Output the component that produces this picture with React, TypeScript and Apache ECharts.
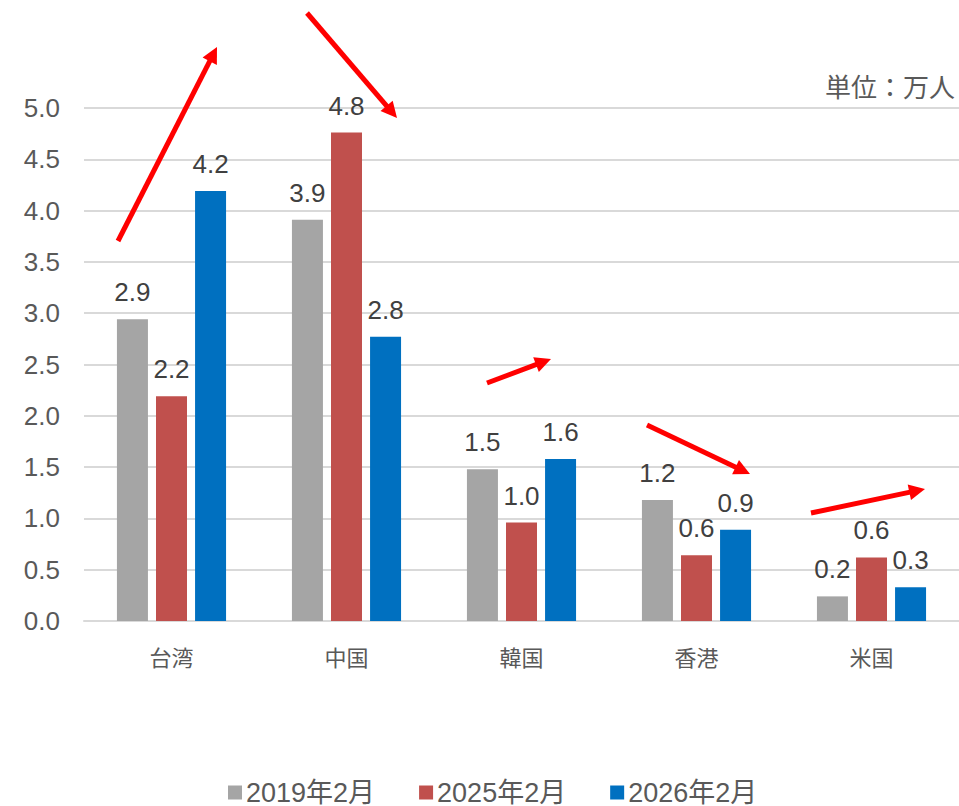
import React, { useEffect, useRef } from "react";
import * as echarts from "echarts";

const categories = ["台湾", "中国", "韓国", "香港", "米国"];
const seriesNames = ["2019年2月", "2025年2月", "2026年2月"];
const values2019 = [2.94, 3.91, 1.48, 1.18, 0.24];
const values2025 = [2.19, 4.76, 0.96, 0.64, 0.62];
const values2026 = [4.19, 2.77, 1.58, 0.89, 0.33];
const colors = ["#A5A5A5", "#C0504D", "#0070C0"];
const unitLabel = "単位：万人";
// annotation arrows (pixel positions): [x1, y1, x2, y2]
const arrows = [
  [118, 241, 217, 47],
  [307, 13, 397, 118],
  [487, 383, 551, 359],
  [647, 425, 750, 474],
  [811, 513, 925, 489],
];

const FONT = "'Liberation Sans', Arial, 'Noto Sans CJK JP', sans-serif";

function arrowGraphic(a: number[]) {
  const [x1, y1, x2, y2] = a;
  const dx = x2 - x1;
  const dy = y2 - y1;
  const len = Math.sqrt(dx * dx + dy * dy);
  const ux = dx / len;
  const uy = dy / len;
  const headLen = 16;
  const headW = 8;
  const bx = x2 - ux * headLen;
  const by = y2 - uy * headLen;
  const px = -uy;
  const py = ux;
  return [
    {
      type: "line",
      shape: { x1, y1, x2: bx + ux * 2, y2: by + uy * 2 },
      style: { stroke: "#FF0000", lineWidth: 5 },
      z: 100,
    },
    {
      type: "polygon",
      shape: {
        points: [
          [x2, y2],
          [bx + px * headW, by + py * headW],
          [bx - px * headW, by - py * headW],
        ],
      },
      style: { fill: "#FF0000" },
      z: 100,
    },
  ];
}

export default function App() {
  const ref = useRef<HTMLDivElement>(null);
  useEffect(() => {
    document.body.style.margin = "0";
    const chart = echarts.init(ref.current!, undefined, { renderer: "svg" });
    const data = [values2019, values2025, values2026];
    const option = {
      animation: false,
      backgroundColor: "#FFFFFF",
      textStyle: { fontFamily: FONT },
      grid: { left: 84, right: -1, top: 108, bottom: 185, containLabel: false },
      legend: {
        left: 223,
        top: 774,
        padding: 5,
        itemWidth: 14,
        itemHeight: 14,
        itemGap: 44,
        icon: "rect",
        textStyle: { fontSize: 27, lineHeight: 27, color: "#595959", fontFamily: FONT, padding: [0, 0, 0, -1] },
        data: seriesNames,
      },
      xAxis: {
        type: "category",
        data: categories,
        axisLine: { show: true, lineStyle: { color: "#D9D9D9", width: 2 } },
        axisTick: { show: false },
        axisLabel: { fontSize: 22, color: "#595959", margin: 26, fontFamily: FONT },
      },
      yAxis: {
        type: "value",
        min: 0,
        max: 5,
        interval: 0.5,
        axisLine: { show: false },
        axisTick: { show: false },
        splitLine: { lineStyle: { color: "#D9D9D9", width: 2 } },
        axisLabel: {
          fontSize: 26,
          color: "#595959",
          margin: 24,
          fontFamily: FONT,
          formatter: (v: number) => v.toFixed(1),
        },
      },
      series: seriesNames.map((name, i) => ({
        name,
        type: "bar",
        data: data[i],
        barWidth: 31,
        barGap: "26%",
        barCategoryGap: "38%",
        itemStyle: { color: colors[i] },
        label: {
          show: true,
          position: "top",
          distance: 14,
          fontSize: 26,
          color: "#404040",
          fontFamily: FONT,
          formatter: (p: any) => Number(p.value).toFixed(1),
        },
      })),
      graphic: [
        {
          type: "text",
          right: 4,
          top: 75,
          style: { text: unitLabel, fontSize: 26, fill: "#595959", fontFamily: FONT },
        },
        ...arrows.flatMap(arrowGraphic),
      ],
    };
    chart.setOption(option as any);
    return () => chart.dispose();
  }, []);
  return <div ref={ref} style={{ width: 959, height: 806 }} />;
}
